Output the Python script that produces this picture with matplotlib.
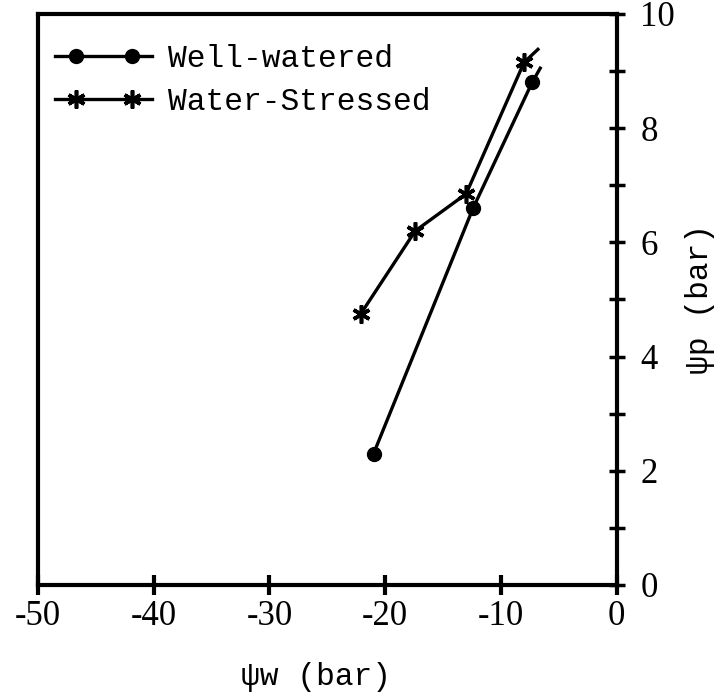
import matplotlib
matplotlib.use("Agg")
import matplotlib.pyplot as plt
from matplotlib.ticker import MultipleLocator
from matplotlib.legend_handler import HandlerLine2D
from matplotlib.lines import Line2D

plt.rcParams['axes.unicode_minus'] = False

# Data
ww_x = [-21.0, -12.4, -7.3]
ww_y = [2.3, 6.6, 8.8]
ww_end = (-6.6, 9.05)          # line tail beyond last marker

ws_x = [-22.1, -17.4, -13.0, -8.0]
ws_y = [4.75, 6.2, 6.85, 9.15]
ws_end = (-6.8, 9.38)

x_ticks = [-50, -40, -30, -20, -10, 0]
y_ticks = [0, 2, 4, 6, 8, 10]

label_font = 'Liberation Mono'
tick_font = 'Liberation Serif'
label_size = 22.5
tick_size = 25


class InsetMarkerHandler(HandlerLine2D):
    """Legend handle: full-length line with two markers inset from its ends."""
    def create_artists(self, legend, orig_handle, xdescent, ydescent,
                       width, height, fontsize, trans):
        y = (height - ydescent) / 2
        x0, x1 = -xdescent, -xdescent + width
        line = Line2D([x0, x1], [y, y])
        line.update_from(orig_handle)
        line.set_marker('')
        line.set_markevery(None)
        pad = 0.21 * width
        mk = Line2D([x0 + pad, x1 - pad], [y, y])
        mk.update_from(orig_handle)
        mk.set_linestyle('None')
        mk.set_markevery(None)
        line.set_transform(trans)
        mk.set_transform(trans)
        return [line, mk]


fig = plt.figure(figsize=(7.26, 6.97), dpi=100)
ax = fig.add_axes([0.0523, 0.1607, 0.797, 0.8193])

lw = 2.4
ax.plot(ww_x + [ww_end[0]], ww_y + [ww_end[1]], color='black', lw=lw,
        marker='o', markersize=10, markevery=list(range(len(ww_x))),
        label='Well-watered')
ax.plot(ws_x + [ws_end[0]], ws_y + [ws_end[1]], color='black', lw=lw,
        marker=(6, 2, 0), markersize=13, markeredgewidth=2.6,
        markevery=list(range(len(ws_x))), label='Water-Stressed')

ax.set_xlim(-50, 0)
ax.set_ylim(0, 10)

ax.yaxis.tick_right()
ax.yaxis.set_label_position('right')
ax.set_xticks(x_ticks)
ax.set_yticks(y_ticks)
ax.yaxis.set_minor_locator(MultipleLocator(1))

ax.tick_params(axis='x', which='major', direction='inout', length=14, width=3,
               pad=4, labelsize=tick_size)
ax.tick_params(axis='y', which='both', direction='inout', length=12, width=2.5,
               pad=11, labelsize=tick_size)
for lab in ax.get_xticklabels() + ax.get_yticklabels():
    lab.set_fontfamily(tick_font)

for s in ax.spines.values():
    s.set_linewidth(3)

ax.set_xlabel('ψw (bar)', fontsize=label_size, family=label_font)
ax.xaxis.set_label_coords(0.48, -0.135)
ax.set_ylabel('ψp (bar)', fontsize=label_size, family=label_font, labelpad=7)

leg = ax.legend(loc='upper left', bbox_to_anchor=(0, 0.978), frameon=False,
                numpoints=2, prop={'family': label_font, 'size': label_size},
                handlelength=3.1, handletextpad=0.5, labelspacing=0.42,
                borderaxespad=0.35, borderpad=0.2,
                handler_map={Line2D: InsetMarkerHandler()})

fig.savefig('out.png', dpi=100)
